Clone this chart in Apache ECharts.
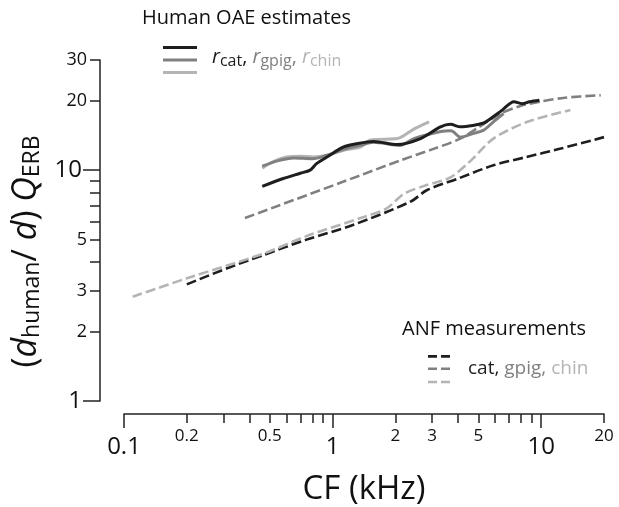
<!DOCTYPE html>
<html><head><meta charset="utf-8">
<script src="https://cdn.jsdelivr.net/npm/echarts@6/dist/echarts.min.js"></script>
<style>html,body{margin:0;padding:0;background:#fff}#c{width:619px;height:507px}</style>
</head><body><div id="c"></div>
<script>
// ---- tick values ----
const xTickValues = [0.1,0.2,0.3,0.4,0.5,0.6,0.7,0.8,0.9,1,2,3,4,5,6,7,8,9,10,20];
const xLabelValues = [0.1,0.2,0.5,1,2,3,5,10,20];
const xMajorTicks = [0.1,1,10];
const yTickValues = [1,2,3,4,5,6,7,8,9,10,20,30];
const yLabelValues = [1,2,3,5,10,20,30];
const yMajorTicks = [1,10];
const bigLabels = [0.1,1,10];

// ---- series: [CF kHz, (d_human/d) Q_ERB] ----
const oaeCat = [[0.46,8.5],[0.58,9.2],[0.70,9.7],[0.78,10.0],[0.84,10.7],[0.94,11.4],[1.13,12.6],[1.3,13.0],[1.57,13.3],[2.04,12.9],[2.64,13.7],[3.29,15.4],[3.67,15.8],[4.1,15.4],[4.7,15.6],[5.3,16.0],[5.6,16.5],[6.5,18.2],[7.4,19.8],[8.1,19.4],[8.8,19.8],[9.8,20.1]];
const oaeGpig = [[0.46,10.4],[0.55,11.0],[0.65,11.3],[0.8,11.2],[0.94,11.6],[1.13,12.3],[1.36,12.8],[1.57,13.2],[2.1,12.8],[2.45,13.7],[3.3,14.7],[3.7,14.8],[4.1,13.9],[4.7,14.4],[5.3,14.9],[5.9,16.2],[6.6,17.6]];
const oaeChin = [[0.46,10.2],[0.52,10.9],[0.60,11.4],[0.70,11.5],[0.81,11.4],[0.94,11.6],[1.13,12.2],[1.36,12.6],[1.52,13.5],[2.04,13.7],[2.19,14.1],[2.5,15.2],[2.9,16.2]];
const anfCat = [[0.2,3.2],[0.31,3.75],[0.47,4.3],[0.75,5.0],[1.26,5.8],[2.36,7.3],[2.84,8.2],[4.0,9.2],[5.9,10.5],[8.5,11.4],[12.4,12.4],[20,13.9]];
const anfGpig = [[0.38,6.2],[1.36,9.5],[2.1,11.0],[3.0,12.3],[4.1,13.7],[5.0,15.3],[6.4,17.6],[8.0,19.0],[9.9,19.8],[13,20.6],[19.3,21.1]];
const anfChin = [[0.11,2.83],[0.2,3.4],[0.47,4.36],[0.75,5.18],[1.36,6.2],[1.8,6.8],[2.2,7.9],[2.8,8.6],[3.67,9.3],[4.6,11.0],[5.9,13.7],[8.6,16.2],[13.8,18.2]];

const oaeNames = ['r_cat','r_gpig','r_chin'];
const anfNames = ['cat','gpig','chin'];

const C_CAT = '#1e1e1e', C_GPIG = '#808080', C_CHIN = '#b4b4b4';
const FONT = '"Open Sans", "Noto Sans", sans-serif';
const ICON_SOLID = 'path://M0,0h34v3h-34z';
const ICON_DASH = 'path://M0,0h9v2.6h-9z M13,0h9v2.6h-9z';

function fmtTick(v){
  const n = +(+v).toPrecision(3);
  return (bigLabels.indexOf(n) >= 0 ? '{b|' : '{s|') + n + '}';
}

const chart = echarts.init(document.getElementById('c'), null, {renderer:'canvas'});
const axisLine = {show:true, lineStyle:{color:'#222', width:1.5}};
const solid = (name, data, color) => ({name, type:'line', data, symbol:'none', smooth:0.3,
  lineStyle:{color, width:3}, itemStyle:{color}, xAxisIndex:0, yAxisIndex:0, z: 3});
const dashed = (name, data, color) => ({name, type:'line', data, symbol:'none', smooth:0.3,
  lineStyle:{color, width:2.6, type:[10,4]}, itemStyle:{color}, xAxisIndex:0, yAxisIndex:0, z: 2});

// one legend key per row (text is drawn separately as titles)
const oaeTops = [42.5, 55, 67.5];
const anfTops = [351.4, 363.7, 377];
const legends = [];
oaeNames.forEach((n, i) => legends.push({data:[{name:n, icon:ICON_SOLID}], left:163, top:oaeTops[i], padding:0,
  itemWidth:34, itemHeight:10, selectedMode:false, formatter:()=>'', textStyle:{fontSize:1}}));
anfNames.forEach((n, i) => legends.push({data:[{name:n, icon:ICON_DASH}], left:428, top:anfTops[i], padding:0,
  itemWidth:22, itemHeight:10, selectedMode:false, formatter:()=>'', textStyle:{fontSize:1}}));

chart.setOption({
  animation:false,
  textStyle:{fontFamily:FONT},
  grid:{left:124, right:15, top:60, bottom:106, containLabel:false, outerBoundsMode:'none'},
  xAxis:[{
    type:'log', logBase:10, min:0.1, max:20, offset:13,
    name:'CF (kHz)', nameLocation:'middle', nameGap:59,
    nameTextStyle:{fontSize:33, color:'#111', fontFamily:FONT},
    axisLine, splitLine:{show:false}, minorTick:{show:false},
    axisTick:{show:true, inside:false, length:9, customValues:xTickValues, lineStyle:{color:'#222', width:1.5}},
    axisLabel:{show:true, margin:14, customValues:xLabelValues, formatter:fmtTick, color:'#111',
      rich:{b:{fontSize:24, fontFamily:FONT, padding:[7,0,0,0]}, s:{fontSize:17, fontFamily:FONT}}}
  },{
    type:'log', logBase:10, min:0.1, max:20, offset:13, position:'bottom',
    axisLine:{show:false}, splitLine:{show:false}, axisLabel:{show:false},
    axisTick:{show:true, length:14, customValues:xMajorTicks, lineStyle:{color:'#222', width:1.5}}
  }],
  yAxis:[{
    type:'log', logBase:10, min:1, max:30, offset:24,
    name:'{n|(}{di|d}{sub|human}{n|/ }{di|d}{n|) }{qi|Q}{sub|ERB}', nameLocation:'middle', nameGap:55, nameRotate:90,
    nameTextStyle:{color:'#111', fontFamily:FONT, padding:[0,42,0,0], rich:{
      di:{fontSize:34, fontStyle:'italic', fontFamily:FONT},
      qi:{fontSize:34, fontStyle:'italic', fontFamily:FONT},
      n:{fontSize:34, fontFamily:FONT},
      sub:{fontSize:23, fontFamily:FONT, padding:[11,0,0,0]}}},
    axisLine, splitLine:{show:false}, minorTick:{show:false},
    axisTick:{show:true, inside:false, length:10, customValues:yTickValues, lineStyle:{color:'#222', width:1.5}},
    axisLabel:{show:true, margin:13, customValues:yLabelValues, formatter:fmtTick, color:'#111',
      rich:{b:{fontSize:24, fontFamily:FONT, padding:[0,5,0,0]}, s:{fontSize:18, fontFamily:FONT}}}
  },{
    type:'log', logBase:10, min:1, max:30, offset:24, position:'left',
    axisLine:{show:false}, splitLine:{show:false}, axisLabel:{show:false},
    axisTick:{show:true, length:17, customValues:yMajorTicks, lineStyle:{color:'#222', width:1.5}}
  }],
  legend:legends,
  title:[
    {text:'Human OAE estimates', left:142, top:8, padding:0, textStyle:{fontSize:20, fontWeight:'normal', color:'#111', fontFamily:FONT}},
    {text:'{r1|r}{s1|cat}{c1|, }{r2|r}{s2|gpig}{c2|, }{r3|r}{s3|chin}', left:212, top:45, padding:0,
      textStyle:{fontWeight:'normal', fontFamily:FONT, rich:{
        r1:{fontSize:20, fontStyle:'italic', color:C_CAT}, s1:{fontSize:16, color:C_CAT, padding:[8,0,0,0]}, c1:{fontSize:20, color:C_CAT},
        r2:{fontSize:20, fontStyle:'italic', color:C_GPIG}, s2:{fontSize:16, color:C_GPIG, padding:[8,0,0,0]}, c2:{fontSize:20, color:C_GPIG},
        r3:{fontSize:20, fontStyle:'italic', color:C_CHIN}, s3:{fontSize:16, color:C_CHIN, padding:[8,0,0,0]}}}},
    {text:'ANF measurements', left:402, top:319, padding:0, textStyle:{fontSize:20, fontWeight:'normal', color:'#111', fontFamily:FONT}},
    {text:'{a|cat, }{b|gpig, }{c|chin}', left:468, top:359, padding:0,
      textStyle:{fontWeight:'normal', fontFamily:FONT, rich:{
        a:{fontSize:19, color:C_CAT}, b:{fontSize:19, color:C_GPIG}, c:{fontSize:19, color:C_CHIN}}}}
  ],
  series:[
    dashed('cat', anfCat, C_CAT),
    dashed('gpig', anfGpig, C_GPIG),
    dashed('chin', anfChin, C_CHIN),
    solid('r_chin', oaeChin, C_CHIN),
    solid('r_gpig', oaeGpig, C_GPIG),
    solid('r_cat', oaeCat, C_CAT)
  ]
});
</script></body></html>
